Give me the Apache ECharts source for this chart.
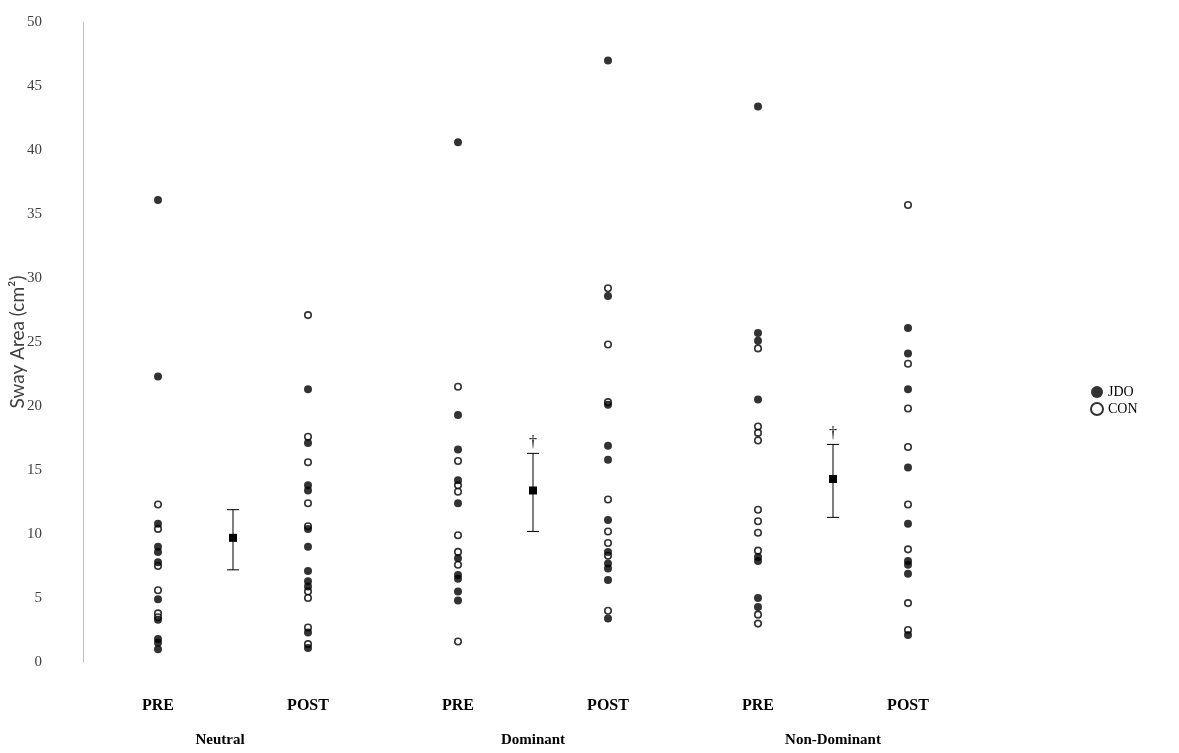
<!DOCTYPE html>
<html>
<head>
<meta charset="utf-8">
<script src="https://cdn.jsdelivr.net/npm/echarts@6/dist/echarts.min.js"></script>
<style>html,body{margin:0;padding:0;background:#fff}#c{width:1179px;height:753px}</style>
</head>
<body>
<div id="c"></div>
<script>
// ---- data ----
const groupNames = ['Neutral', 'Dominant', 'Non-Dominant'];
const phaseNames = ['PRE', 'POST'];
const yTicks = [0, 5, 10, 15, 20, 25, 30, 35, 40, 45, 50];

// JDO (filled) values per column: Neutral PRE, Neutral POST, Dominant PRE, Dominant POST, Non-Dom PRE, Non-Dom POST
const jdoNeutralPre = [36.1, 22.3, 10.8, 9.0, 8.6, 7.8, 4.9, 3.3, 1.8, 1.5, 1.0];
const jdoNeutralPost = [21.3, 17.1, 13.8, 13.4, 10.4, 9.0, 7.1, 6.3, 5.9, 2.3, 1.1];
const jdoDominantPre = [40.6, 19.3, 16.6, 14.2, 12.4, 8.1, 6.8, 6.5, 5.5, 4.8];
const jdoDominantPost = [47.0, 28.6, 20.1, 16.9, 15.8, 11.1, 8.6, 7.7, 7.3, 6.4, 3.4];
const jdoNonDomPre = [43.4, 25.7, 25.1, 20.5, 8.2, 7.9, 5.0, 4.3];
const jdoNonDomPost = [26.1, 24.1, 21.3, 15.2, 10.8, 7.9, 7.6, 6.9, 2.1];

// CON (open) values per column
const conNeutralPre = [12.3, 10.4, 7.5, 5.6, 3.8, 3.5];
const conNeutralPost = [27.1, 17.6, 15.6, 12.4, 10.6, 5.5, 5.0, 2.7, 1.4];
const conDominantPre = [21.5, 15.7, 13.8, 13.3, 9.9, 8.6, 7.6, 1.6];
const conDominantPost = [29.2, 24.8, 20.3, 12.7, 10.2, 9.3, 8.3, 4.0];
const conNonDomPre = [24.5, 18.4, 17.9, 17.3, 11.9, 11.0, 10.1, 8.7, 3.7, 3.0];
const conNonDomPost = [35.7, 23.3, 19.8, 16.8, 12.3, 8.8, 4.6, 2.5];

// change (mean ± error) per condition
const meanValues = [9.7, 13.4, 14.3];
const errLow = [7.2, 10.2, 11.3];
const errHigh = [11.9, 16.3, 17.0];
const significant = [false, true, true];

// ---- build ----
const jdoCols = [jdoNeutralPre, jdoNeutralPost, jdoDominantPre, jdoDominantPost, jdoNonDomPre, jdoNonDomPost];
const conCols = [conNeutralPre, conNeutralPost, conDominantPre, conDominantPost, conNonDomPre, conNonDomPost];
const toPts = cols => cols.flatMap((arr, i) => arr.map(v => [i, v]));
const meanData = meanValues.map((m, i) => [2 * i + 0.5, m, errLow[i], errHigh[i], significant[i] ? 1 : 0]);

const serif = 'Liberation Serif';
const chart = echarts.init(document.getElementById('c'));
chart.setOption({
  animation: false,
  backgroundColor: '#fff',
  grid: { left: 83, right: 121, top: 22, bottom: 91, containLabel: false, outerBoundsMode: 'none' },
  legend: {
    orient: 'vertical', left: 1085, top: 380, itemGap: 3,
    itemWidth: 12, itemHeight: 12,
    textStyle: { fontFamily: serif, fontSize: 14, color: '#000' },
    data: [
      { name: 'JDO', icon: 'circle' },
      { name: 'CON', icon: 'circle' }
    ]
  },
  xAxis: [{
    type: 'value', min: -0.5, max: 6, interval: 0.5,
    axisLine: { show: false }, axisTick: { show: false }, splitLine: { show: false },
    axisLabel: {
      margin: 36, fontFamily: serif, fontWeight: 'bold', fontSize: 16, color: '#000',
      formatter: v => (Number.isInteger(v) && v >= 0 && v <= 5) ? phaseNames[v % 2] : ''
    }
  }, {
    type: 'value', min: -0.5, max: 6, interval: 0.5, position: 'bottom', offset: 0,
    axisLine: { show: false }, axisTick: { show: false }, splitLine: { show: false },
    axisLabel: {
      margin: 71, fontFamily: serif, fontWeight: 'bold', fontSize: 15, color: '#000',
      formatter: v => {
        const k = (v - 0.5) / 2;
        if (Number.isInteger(k) && k >= 0 && k < 3) return k === 0 ? '{n|' + groupNames[k] + '}' : groupNames[k];
        return '';
      },
      rich: { n: { fontFamily: serif, fontWeight: 'bold', fontSize: 15, color: '#000', padding: [0, 26, 0, 0] } }
    }
  }],
  yAxis: {
    type: 'value', min: 0, max: 50, interval: 5,
    name: 'Sway Area (cm²)', nameLocation: 'middle', nameGap: 56, nameMoveOverlap: false,
    nameTextStyle: { fontFamily: 'Lato', fontSize: 19, color: '#404040' },
    axisLine: { show: true, onZero: false, lineStyle: { color: '#bfbfbf', width: 1 } },
    axisTick: { show: false }, splitLine: { show: false },
    axisLabel: {
      margin: 41, fontFamily: serif, fontSize: 15, color: '#404040',
      formatter: v => yTicks.includes(v) ? String(v) : ''
    }
  },
  series: [
    {
      name: 'CON', type: 'scatter', data: toPts(conCols), symbol: 'circle', symbolSize: 6.5,
      itemStyle: { color: '#fff', borderColor: '#000', borderWidth: 1.6 }, z: 3
    },
    {
      name: 'JDO', type: 'scatter', data: toPts(jdoCols), symbol: 'circle', symbolSize: 8,
      itemStyle: { color: '#000' }, z: 4
    },
    {
      name: 'mean', type: 'custom', data: meanData, z: 5,
      renderItem: (params, api) => {
        const x = api.value(0);
        const m = api.coord([x, api.value(1)]);
        const lo = api.coord([x, api.value(2)]);
        const hi = api.coord([x, api.value(3)]);
        const cw = 6;
        const st = { stroke: '#000', lineWidth: 1 };
        const children = [
          { type: 'line', shape: { x1: m[0], y1: lo[1], x2: m[0], y2: hi[1] }, style: st },
          { type: 'line', shape: { x1: m[0] - cw, y1: lo[1], x2: m[0] + cw, y2: lo[1] }, style: st },
          { type: 'line', shape: { x1: m[0] - cw, y1: hi[1], x2: m[0] + cw, y2: hi[1] }, style: st },
          { type: 'rect', shape: { x: m[0] - 4, y: m[1] - 4, width: 8, height: 8 }, style: { fill: '#000' } }
        ];
        if (api.value(4)) {
          children.push({ type: 'text', style: { text: '†', x: m[0], y: hi[1] - 3, textAlign: 'center', textVerticalAlign: 'bottom', font: '16px ' + serif, fill: '#000' } });
        }
        return { type: 'group', children };
      }
    }
  ]
});
</script>
</body>
</html>
